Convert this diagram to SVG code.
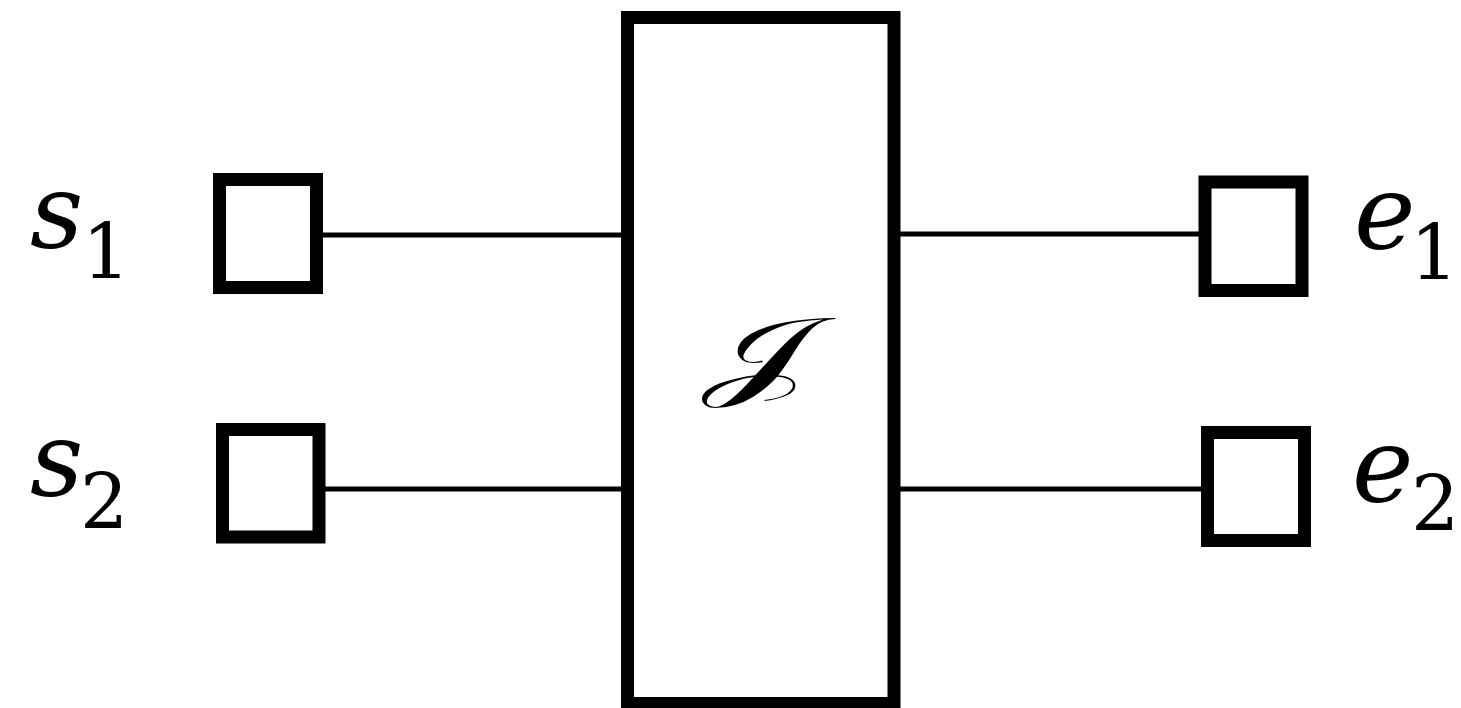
<svg xmlns="http://www.w3.org/2000/svg" width="1461" height="708" viewBox="0 0 1461 708">
<style>
.box{fill:#fff;stroke:#000;stroke-width:13}
.wire{stroke:#000;stroke-width:5;fill:none}
.lbl{font-family:'DejaVu Serif',serif;font-style:italic;font-size:104px;fill:#000}
.sub{font-family:'DejaVu Serif',serif;font-style:normal;font-size:76px}
.cal{font-family:'DejaVu Serif',serif;font-size:100px;fill:#000}
</style>
<rect width="1461" height="708" fill="#fff"/>
<g id="connectors">
<line class="wire" x1="323" y1="235" x2="622" y2="235"/>
<line class="wire" x1="325" y1="489" x2="622" y2="489"/>
<line class="wire" x1="900" y1="234" x2="1199" y2="234"/>
<line class="wire" x1="900" y1="489" x2="1202" y2="489"/>
</g>
<g id="J">
<rect class="box" x="627.5" y="17.5" width="266.5" height="686"/>
<text class="cal" font-family="DejaVu Serif" transform="translate(757,387) scale(1.6,1)" x="0" y="0" text-anchor="middle">𝒥</text>
</g>
<g id="s1">
<rect class="box" x="219.5" y="179.5" width="97" height="108"/>
<text class="lbl" font-family="DejaVu Serif" x="30" y="248">s<tspan class="sub" font-family="DejaVu Serif" x="82" y="278">1</tspan></text>
</g>
<g id="s2">
<rect class="box" x="222.5" y="429.5" width="96.5" height="107.5"/>
<text class="lbl" font-family="DejaVu Serif" x="30" y="496">s<tspan class="sub" font-family="DejaVu Serif" x="80" y="528">2</tspan></text>
</g>
<g id="e1">
<rect class="box" x="1205" y="182" width="97" height="108.5"/>
<text class="lbl" font-family="DejaVu Serif" x="1354" y="249">e<tspan class="sub" font-family="DejaVu Serif" x="1410" y="279">1</tspan></text>
</g>
<g id="e2">
<rect class="box" x="1207.5" y="432.5" width="97" height="108"/>
<text class="lbl" font-family="DejaVu Serif" x="1352" y="502">e<tspan class="sub" font-family="DejaVu Serif" x="1411" y="530">2</tspan></text>
</g>
</svg>
